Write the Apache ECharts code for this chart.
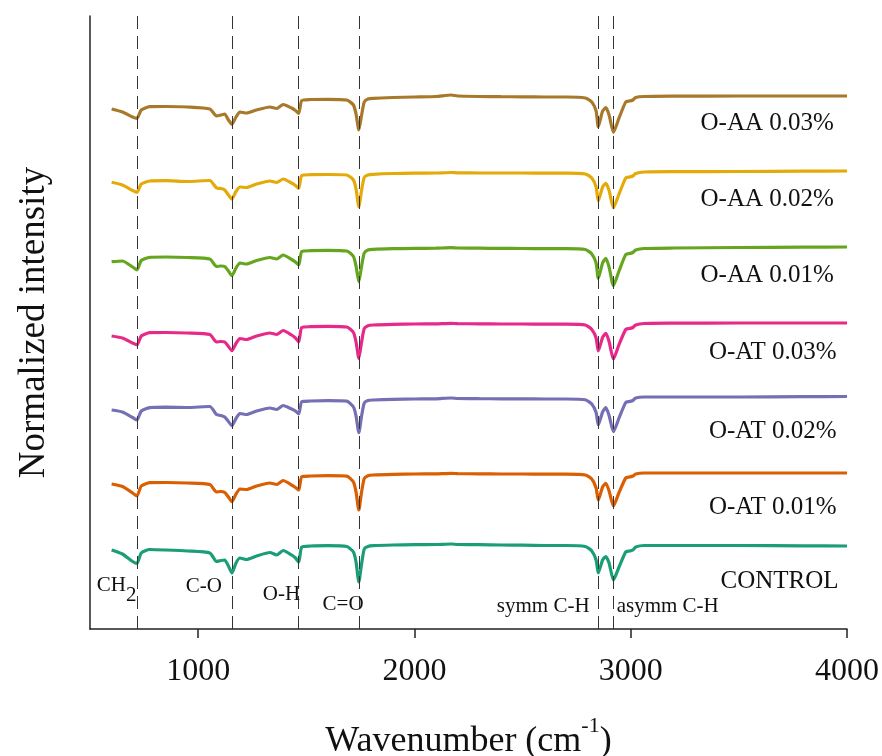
<!DOCTYPE html>
<html>
<head>
<meta charset="utf-8">
<script src="https://cdn.jsdelivr.net/npm/echarts@6/dist/echarts.min.js"></script>
<style>
  html, body { margin: 0; padding: 0; background: #fff; }
  #chart { width: 882px; height: 756px; }
</style>
</head>
<body>
<div id="chart"></div>
<script>
// Wavenumber sample points (cm^-1), shared by all spectra
const wavenumbers = [600,650,697,717,737,776,850,950,1054,1085,1105,1123,1140,1156,1175,1193,1224,1270,1332,1363,1393,1432,1450,1465,1479,1520,1600,1687,1718,1730,1743,1755,1768,1785,1809,1900,2000,2100,2170,2200,2300,2400,2500,2600,2700,2790,2820,2840,2850,2870,2885,2900,2920,2946,2977,2995,3010,3023,3062,3200,3500,3800,4000];

// Normalized (offset) intensities
const oaa003 = [520,517,512,510.7,519,522.3,522.5,522,520,513,514,515,509,504.7,512,517,516,519,522,520.5,524.5,521,518.5,515.7,528.5,529.5,529.7,529,524,515,499,513,527,530,530.7,531.5,532,532.5,534,533,532.5,532.3,532.2,532,532,531,527,518,502.3,518,521.3,514,496.7,511,527,528,529,531.5,532.5,532.8,533,533,533];
const oaa002 = [446.7,444,438.5,436.7,445,448,448.3,447.5,448.5,441,440.5,439,434,430,437.5,442,441.5,445,448,446.5,450,446,443.5,440.7,453.5,454.3,454.5,454,449,440,422.3,438,451.5,454,454.7,455.5,455.8,456,456.5,456.2,456,456,456,455.8,455.8,455,451,442,428,442,445.7,438.5,421.3,435,451,452,453,455.5,457,457.3,457.5,457.8,458];
const oaa001 = [367.3,368,362,359,368.5,371.7,372,371.5,370,362.5,363,362.5,358,353.3,361,366,365,368.5,371.5,370,374,369.5,367,364,377.5,378.3,378.7,378,372.5,363,347.3,362,376,379,379.7,380.3,380.6,380.8,381.3,381,380.8,380.6,380.5,380.3,380.3,379.5,375,366,350.7,366,370.7,362,343.3,358,374.5,375.5,376.5,379,380.5,381,381.5,381.8,382];
const oat003 = [293,291,286,284,293,296.3,296.5,296,294.5,287,287.5,287,282.5,278.3,285.5,290.5,289.5,293,296,294.5,298.5,294,291,287.3,301.5,302.3,302.7,302,296.5,287,270.7,286,300.5,303.3,304,304.7,305,305.2,305.7,305.3,305.2,305,305,304.8,304.8,304,299.5,291,278,291.5,295.7,287.5,270,284.5,299.5,300.5,301.5,304,305.5,305.8,306,306,306];
const oat002 = [219,217,211.5,209,218,221.3,221.8,221.5,222.5,214.5,213.5,212,207.5,203.3,210.5,215.5,214.5,218,221,219.5,223.5,220,218,215,227.3,228,228.3,227.8,222,213,196.3,212,226,228.5,229,229.7,230,230.2,231,230.5,230.3,230.2,230.2,230,230,229.2,225,216.5,204,217,221.3,213.5,197.3,211,226.5,227.5,228.5,231,232,232,232,232.3,232.5];
const oat001 = [145,142.5,136,133,143,146.3,146.5,146,144.5,137,137.5,136.5,132,127.3,135,140,139.5,143,146,144.5,148.5,144,141.5,139,152.3,153,153.3,152.8,147,137,119,136,150.5,153.3,154,154.7,155,155.2,155.7,155.3,155.2,155,155,154.8,154.8,154,150,141,129,142,145.7,138,123,136.5,151,152,153,155,156,156,156,156,156];
const control = [79,75,67.5,65.5,76,79.5,79,78,76,67.5,68.5,69,63,56,66,71,69.5,73,76.5,74,78.5,74,71,67,82,83,83.3,82.5,77,67,47,64,80,82.5,83.3,84,84.3,84.5,85,84.5,84.3,84,83.8,83.5,83.5,82.5,78,69,56,69,72.5,66,49,62,77,78,79,82,83.5,83.5,83.5,83.2,83];

const seriesNames = ['O-AA 0.03%','O-AA 0.02%','O-AA 0.01%','O-AT 0.03%','O-AT 0.02%','O-AT 0.01%','CONTROL'];
const seriesValues = [oaa003, oaa002, oaa001, oat003, oat002, oat001, control];
const seriesColors = ['#A8792A','#E3AA0A','#66A61E','#E7298A','#7570B3','#D95F02','#1B9E77'];

// Curve-label anchor points (wavenumber, intensity)
const labelX = [3631, 3631, 3631, 3657, 3657, 3657, 3688];
const labelY = [506, 429.5, 354, 277, 198, 122, 48];

// Band positions (dashed guides) and their annotations
const bandLines = [717, 1156, 1465, 1743, 2850, 2920];
const bandTexts = ['{a|CH}{b|2}', 'C-O', 'O-H', 'C=O', 'symm C-H', 'asymm C-H'];
const bandTextX = [531, 1026, 1385, 1670, 2810, 2935];
const bandTextY = [39, 43, 35, 25, 23, 23];
const bandAlign = ['left', 'center', 'center', 'center', 'right', 'left'];

const xTicks = [1000, 2000, 3000, 4000];

const FONT = '"Liberation Serif", "Times New Roman", serif';

const chart = echarts.init(document.getElementById('chart'), null, { renderer: 'canvas' });

const series = seriesNames.map((name, i) => ({
  name: name,
  type: 'line',
  data: wavenumbers.map((w, j) => [w, seriesValues[i][j]]),
  showSymbol: false,
  symbol: 'none',
  smooth: 0.2,
  lineStyle: { color: seriesColors[i], width: 3.2 },
  itemStyle: { color: seriesColors[i] },
  z: 3,
  silent: true,
  markPoint: {
    silent: true,
    symbol: 'circle',
    symbolSize: 0,
    data: [{
      coord: [labelX[i], labelY[i]],
      label: {
        show: true,
        position: 'inside',
        formatter: name,
        color: '#111',
        fontFamily: FONT,
        fontSize: 25,
        align: 'center',
        verticalAlign: 'middle'
      }
    }]
  }
}));

// Guide lines and band annotations
series.push({
  name: 'bands',
  type: 'line',
  data: [],
  silent: true,
  markLine: {
    silent: true,
    symbol: 'none',
    label: { show: false },
    lineStyle: { color: '#333', width: 1, type: [13, 7] },
    data: bandLines.map(v => ({ xAxis: v }))
  },
  markPoint: {
    silent: true,
    symbol: 'circle',
    symbolSize: 0,
    data: bandTexts.map((t, i) => ({
      coord: [bandTextX[i], bandTextY[i]],
      label: {
        show: true,
        position: 'inside',
        formatter: t,
        color: '#111',
        fontFamily: FONT,
        fontSize: 21,
        align: bandAlign[i],
        verticalAlign: 'middle',
        rich: {
          a: { fontFamily: FONT, fontSize: 21, color: '#111', verticalAlign: 'top' },
          b: { fontFamily: FONT, fontSize: 21, color: '#111', verticalAlign: 'top', padding: [10, 0, 0, 0] }
        }
      }
    }))
  }
});

chart.setOption({
  animation: false,
  backgroundColor: '#fff',
  grid: { left: 90, right: 35, top: 16, bottom: 127, containLabel: false, outerBoundsMode: 'none' },
  xAxis: {
    type: 'value',
    min: 500,
    max: 4000,
    interval: 500,
    name: '{t|Wavenumber (cm}{s|-1}{t|)}',
    nameLocation: 'middle',
    nameGap: 86,
    nameTextStyle: {
      rich: {
        t: { fontFamily: FONT, fontSize: 36, color: '#111', verticalAlign: 'top', padding: [9, 0, 0, 0] },
        s: { fontFamily: FONT, fontSize: 22, color: '#111', verticalAlign: 'top' }
      }
    },
    axisLine: { show: true, lineStyle: { color: '#222', width: 1.5 } },
    axisTick: { show: true, inside: false, length: 9, customValues: xTicks, lineStyle: { color: '#222', width: 1.5 } },
    axisLabel: { show: true, customValues: xTicks, formatter: v => String(v), margin: 27, fontFamily: FONT, fontSize: 32, color: '#111' },
    splitLine: { show: false }
  },
  yAxis: {
    type: 'value',
    min: 0,
    max: 613,
    name: 'Normalized intensity',
    nameLocation: 'middle',
    nameGap: 37,
    nameTextStyle: { fontFamily: FONT, fontSize: 37, color: '#111' },
    axisLine: { show: true, lineStyle: { color: '#222', width: 1.5 } },
    axisTick: { show: false },
    axisLabel: { show: false },
    splitLine: { show: false }
  },
  series: series
});
</script>
</body>
</html>
